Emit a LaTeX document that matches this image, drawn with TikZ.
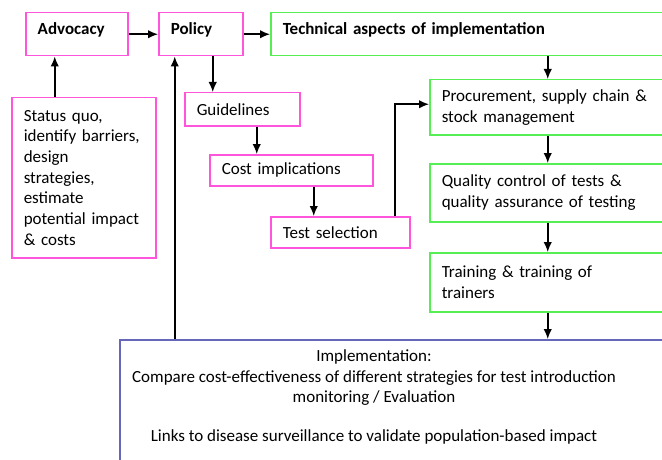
\documentclass[tikz,border=0pt]{standalone}
\usepackage{fontspec}
\setmainfont{Carlito}
\usetikzlibrary{arrows.meta}
\definecolor{pk}{HTML}{FF55DD}
\definecolor{gr}{HTML}{55EE55}
\definecolor{bl}{HTML}{6666BB}
\begin{document}
\begin{tikzpicture}[x=1pt,y=-1pt,font=\fontsize{17}{20.7}\selectfont,
  box/.style={draw,line width=1.5pt,rectangle,anchor=north west,inner xsep=12pt,inner ysep=0pt,align=left},
  pbox/.style={box,draw=pk},
  gbox/.style={box,draw=gr},
  topbox/.style={text depth=12pt},
  arr/.style={-{Latex[length=10pt,width=8.5pt]},line width=1.5pt}]
\useasboundingbox (0,0) rectangle (662,460);
\node[pbox,topbox,text width=78pt,minimum height=43pt] (adv) at (25,12) {\textbf{Advocacy}};
\node[pbox,topbox,text width=60pt,minimum height=43pt] (pol) at (158,12) {\textbf{Policy}};
\node[gbox,topbox,text width=371pt,minimum height=43pt] (tech) at (270,12) {\textbf{Technical aspects of implementation}};
\node[pbox,text width=120pt,minimum height=160pt] (sq) at (11,97) {Status quo,\\identify barriers,\\design\\strategies,\\estimate\\potential impact\\\& costs};
\node[pbox,text width=91pt,minimum height=33pt] (gui) at (184,92) {Guidelines};
\node[pbox,text width=139pt,minimum height=31pt] (cost) at (209,154) {Cost implications};
\node[pbox,text width=115pt,minimum height=31pt] (ts) at (270,216) {Test selection};
\node[gbox,text width=212pt,minimum height=55pt] (proc) at (429,79) {Procurement, supply chain \&\\stock management};
\node[gbox,text width=212pt,minimum height=58pt] (qc) at (429,163) {Quality control of tests \&\\ quality assurance of testing};
\node[gbox,text width=212pt,minimum height=59pt] (tr) at (429,252) {Training \& training of\\ trainers};
\node[draw=bl,line width=1.5pt,rectangle,anchor=north west,minimum width=560pt,minimum height=150pt,inner sep=0pt] (impl) at (119,339) {};
\node[align=center,inner sep=0pt] (impltxt) at (374,397) {Implementation:\\Compare cost-effectiveness of different strategies for test introduction\\monitoring / Evaluation\\[18pt]Links to disease surveillance to validate population-based impact};
\draw[arr] (adv) -- (pol);
\draw[arr] (pol) -- (tech);
\draw[arr] ([xshift=-29pt]sq.north) -- ([xshift=-29pt]sq.north |- adv.south);
\draw[arr] ([xshift=12pt]pol.south) -- ([xshift=12pt]pol.south |- gui.north);
\draw[arr] ([xshift=14.5pt]gui.south) -- ([xshift=14.5pt]gui.south |- cost.north);
\draw[arr] ([xshift=22.5pt]cost.south) -- ([xshift=22.5pt]cost.south |- ts.north);
\draw[arr] ([xshift=54.5pt]ts.north) |- ([yshift=3pt]proc.west);
\draw[arr] (proc.north |- tech.south) -- (proc.north);
\draw[arr] (proc) -- (qc);
\draw[arr] (qc) -- (tr);
\draw[arr] (tr.south) -- (tr.south |- impl.north);
\draw[arr] ([xshift=-26pt]pol.south |- impl.north) -- ([xshift=-26pt]pol.south);
\end{tikzpicture}
\end{document}
